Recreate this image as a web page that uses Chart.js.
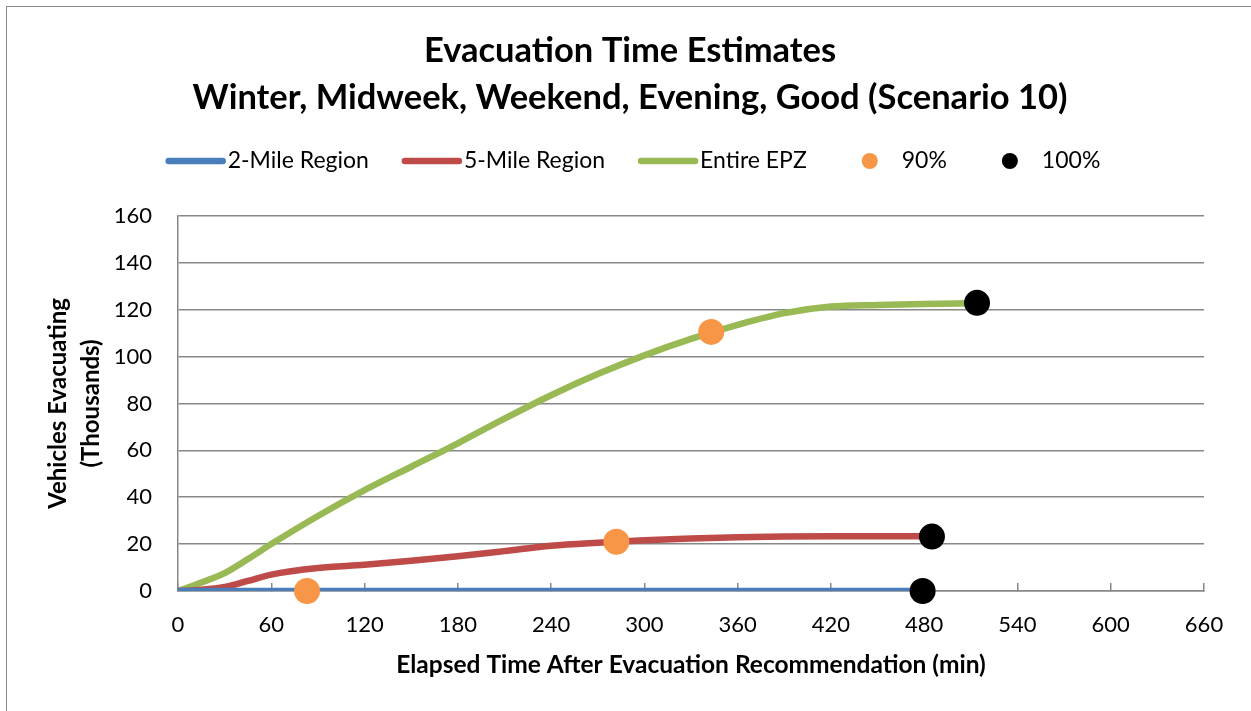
<!DOCTYPE html>
<html>
<head>
<meta charset="utf-8">
<script src="https://cdn.jsdelivr.net/npm/chart.js@4.4.1/dist/chart.umd.min.js"></script>
<style>
  html, body { margin: 0; padding: 0; background: #fff; overflow: hidden; }
  #frame {
    position: absolute; left: 6px; top: 6px; width: 1246px; height: 705px;
    border-left: 1.5px solid #898989; border-top: 1.5px solid #898989;
  }
  #chart { display: block; }
</style>
</head>
<body>
<div id="frame"><canvas id="chart" width="1246" height="705"></canvas></div>
<script>
"use strict";

// Elapsed minutes / vehicles (thousands)
const MILE2_T = [0, 60, 120, 180, 240, 300, 360, 420, 479];
const MILE2_V = [0, 0, 0, 0, 0, 0, 0, 0, 0];

const MILE5_T = [0, 15, 30, 45, 60, 90, 120, 150, 180, 210, 240, 270, 300, 330, 360, 390, 420, 450, 484];
const MILE5_V = [0, 0.5, 1.7, 4.3, 7.0, 9.8, 11.2, 12.9, 14.8, 17.0, 19.3, 20.6, 21.6, 22.4, 22.9, 23.2, 23.3, 23.3, 23.3];

const EPZ_T = [0, 15, 30, 45, 60, 90, 120, 150, 180, 210, 240, 270, 300, 330, 360, 390, 420, 450, 480, 514];
const EPZ_V = [0, 3.6, 7.6, 13.6, 20, 32, 43, 53, 63, 73.5, 83.5, 92.5, 100.5, 107.5, 113.5, 118.5, 121.3, 122, 122.4, 122.8];

const PCT90_T = [83, 282, 343];
const PCT90_V = [0, 21, 110.5];

const PCT100_T = [479, 485, 514];
const PCT100_V = [0, 23.2, 122.9];

const X_TICKS = [0, 60, 120, 180, 240, 300, 360, 420, 480, 540, 600, 660];
const Y_TICKS = [0, 20, 40, 60, 80, 100, 120, 140, 160];

const COLORS = {
  mile2: "#4A7EBB",
  mile5: "#BE4B48",
  epz:   "#98B954",
  p90:   "#F79646",
  p100:  "#000000",
  grid:  "#878787",
};
const FONT = "Lato, 'Open Sans', sans-serif";

const pts = (ts, vs) => ts.map((t, i) => ({ x: t, y: vs[i] }));

function lineSet(label, ts, vs, color) {
  return {
    type: "line", label, data: pts(ts, vs),
    borderColor: color, backgroundColor: color,
    borderWidth: 6.5, pointRadius: 0, fill: false,
    cubicInterpolationMode: "monotone", order: 2,
    legendKind: "line",
  };
}
function dotSet(label, ts, vs, color) {
  return {
    type: "scatter", label, data: pts(ts, vs),
    borderColor: color, backgroundColor: color,
    pointRadius: 13, pointHoverRadius: 13, borderWidth: 0, order: 0,
    clip: false,
    legendKind: "dot",
  };
}

// Legend drawn by hand: Excel-style long line swatches next to round dots
const legendPlugin = {
  id: "excelLegend",
  afterDraw(chart) {
    const ctx = chart.ctx;
    const y = 154, sw = 60, gap = 2, spacing = 33;
    ctx.save();
    ctx.font = "23px " + FONT;
    ctx.textBaseline = "middle";
    const sets = chart.data.datasets;
    const widths = sets.map(d => sw + gap + ctx.measureText(d.label).width);
    const total = widths.reduce((a, b) => a + b, 0) + spacing * (sets.length - 1);
    let x = chart.width / 2 - total / 2 + 3;
    sets.forEach((d, i) => {
      if (d.legendKind === "line") {
        ctx.strokeStyle = d.borderColor;
        ctx.lineWidth = 6.5;
        ctx.lineCap = "round";
        ctx.beginPath();
        ctx.moveTo(x + 3, y);
        ctx.lineTo(x + sw - 3, y);
        ctx.stroke();
      } else {
        ctx.fillStyle = d.backgroundColor;
        ctx.beginPath();
        ctx.arc(x + sw / 2, y, 8, 0, Math.PI * 2);
        ctx.fill();
      }
      ctx.fillStyle = "#000";
      ctx.fillText(d.label, x + sw + gap, y);
      x += widths[i] + spacing;
    });
    ctx.restore();
  },
};

new Chart(document.getElementById("chart"), {
  data: {
    datasets: [
      lineSet("2-Mile Region", MILE2_T, MILE2_V, COLORS.mile2),
      lineSet("5-Mile Region", MILE5_T, MILE5_V, COLORS.mile5),
      lineSet("Entire EPZ", EPZ_T, EPZ_V, COLORS.epz),
      dotSet("90%", PCT90_T, PCT90_V, COLORS.p90),
      dotSet("100%", PCT100_T, PCT100_V, COLORS.p100),
    ],
  },
  options: {
    responsive: false,
    animation: false,
    events: [],
    layout: { padding: { left: 0, right: 0, top: 0, bottom: 0 } },
    plugins: {
      legend: { display: false },
      tooltip: { enabled: false },
      title: {
        display: true,
        text: ["Evacuation Time Estimates", "Winter, Midweek, Weekend, Evening, Good (Scenario 10)"],
        color: "#000",
        font: { family: FONT, size: 34.5, weight: "bold", lineHeight: 1.36 },
        padding: { top: 20, bottom: 95 },
      },
    },
    scales: {
      x: {
        type: "linear", position: "bottom", min: 0, max: 660,
        afterBuildTicks: s => { s.ticks = X_TICKS.map(v => ({ value: v })); },
        afterFit: s => { s.height = 121; },
        ticks: { color: "#000", font: { family: FONT, size: 22 }, padding: 29 },
        grid: { drawOnChartArea: false, drawTicks: true, tickLength: -8, color: COLORS.grid, lineWidth: 1.5 },
        border: { color: COLORS.grid, width: 1.5 },
        title: {
          display: true, text: "Elapsed Time After Evacuation Recommendation (min)",
          color: "#000", font: { family: FONT, size: 24.5, weight: "bold" },
          padding: { top: 0, bottom: 32 },
        },
      },
      y: {
        type: "linear", position: "left", min: 0, max: 160,
        afterBuildTicks: s => { s.ticks = Y_TICKS.map(v => ({ value: v })); },
        afterFit: s => { s.width = 171; },
        ticks: { color: "#000", font: { family: FONT, size: 22 }, padding: 26 },
        grid: { drawTicks: false, color: COLORS.grid, lineWidth: 1.5 },
        border: { color: COLORS.grid, width: 1.5 },
        title: {
          display: true, text: ["Vehicles Evacuating", "(Thousands)"],
          color: "#000", font: { family: FONT, size: 24, weight: "bold", lineHeight: 1.4 },
          padding: { top: 34, bottom: 0 },
        },
      },
      // spacer on the right so the plot ends where the reference's does
      yRight: {
        type: "linear", position: "right", display: true,
        ticks: { display: false }, grid: { display: false }, border: { display: false },
        afterFit: s => { s.width = 49; },
      },
    },
  },
  plugins: [legendPlugin],
});
</script>
</body>
</html>
